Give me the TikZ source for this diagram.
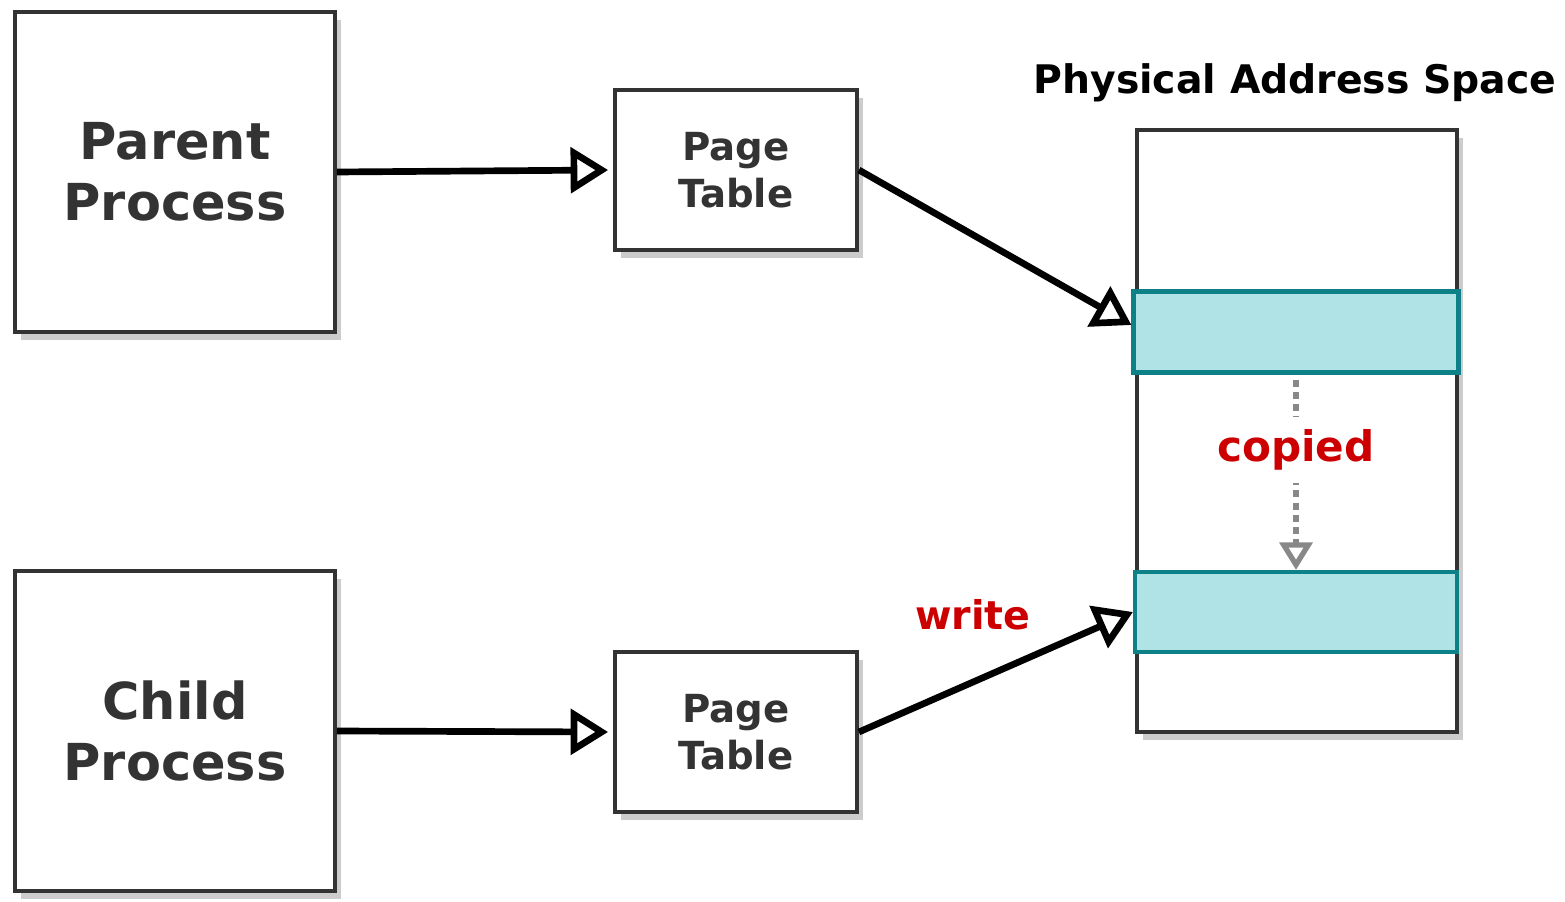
\documentclass[tikz,border=0pt]{standalone}
\usepackage{fontspec}
\setmainfont{DejaVu Sans}
\usetikzlibrary{arrows.meta,shadows}

\definecolor{boxline}{HTML}{333333}
\definecolor{shadowgray}{HTML}{CCCCCC}
\definecolor{bandfill}{HTML}{B0E3E6}
\definecolor{bandline}{HTML}{0E8088}
\definecolor{notered}{HTML}{CC0000}
\definecolor{copygray}{HTML}{888888}

\tikzset{
  procbox/.style={draw=boxline, line width=2.2pt, fill=white, text=boxline,
    minimum width=6.4cm, minimum height=6.4cm, align=center,
    font=\fontsize{29}{35}\selectfont\bfseries,
    drop shadow={shadow xshift=0.12cm, shadow yshift=-0.16cm, fill=shadowgray, opacity=1}},
  tablebox/.style={procbox, minimum width=4.84cm, minimum height=3.2cm,
    font=\fontsize{22}{26.5}\selectfont\bfseries},
  memband/.style={draw=bandline, fill=bandfill, line width=2.4pt,
    minimum width=6.5cm, minimum height=1.62cm},
  ptr/.style={line width=3.8pt, -{Triangle[open,length=0.75cm,width=0.9cm]}},
  copyarrow/.style={draw=copygray, line width=3pt, dash pattern=on 4pt off 3pt,
    -{Triangle[open,length=0.55cm,width=0.65cm]}},
  note/.style={text=notered, font=\fontsize{22.5}{27}\selectfont\bfseries}
}

\begin{document}
\begin{tikzpicture}[x=0.02cm,y=-0.02cm]
\useasboundingbox (0,0) rectangle (1565,902);

% processes and their page tables
\node[procbox] (parent) at (175,172) {Parent\\Process};
\node[procbox] (child) at (175,731) {Child\\Process};
\node[tablebox] (ptparent) at (736,170) {Page\\Table};
\node[tablebox] (ptchild) at (736,732) {Page\\Table};

% physical memory
\node[font=\fontsize{22.4}{27}\selectfont\bfseries] (title) at (1295,83) {Physical Address Space};
\node[procbox, minimum width=6.4cm, minimum height=12.04cm] (phys) at (1297,431) {};
\node[memband] (ptop) at (1296,332) {};
\node[memband, minimum width=6.44cm, minimum height=1.6cm] (pbot) at (1296,612) {};

% mappings
\draw[ptr] (parent.east) -- ([xshift=-0.1cm]ptparent.west);
\draw[ptr] (child.east) -- ([xshift=-0.1cm]ptchild.west);
\draw[ptr] (ptparent.east) -- ([yshift=0.14cm]ptop.west);
\draw[ptr] (ptchild.east) -- (pbot.west);
\node[note] (write) at (973,615) {write};

% copy on write
\draw[copyarrow] ([yshift=-0.1cm]ptop.south) -- (pbot.north)
  node[pos=0.37, fill=white, inner xsep=2pt, inner ysep=0.26cm, note,
    font=\fontsize{24}{28}\selectfont\bfseries] (copied) {copied};
\end{tikzpicture}
\end{document}
